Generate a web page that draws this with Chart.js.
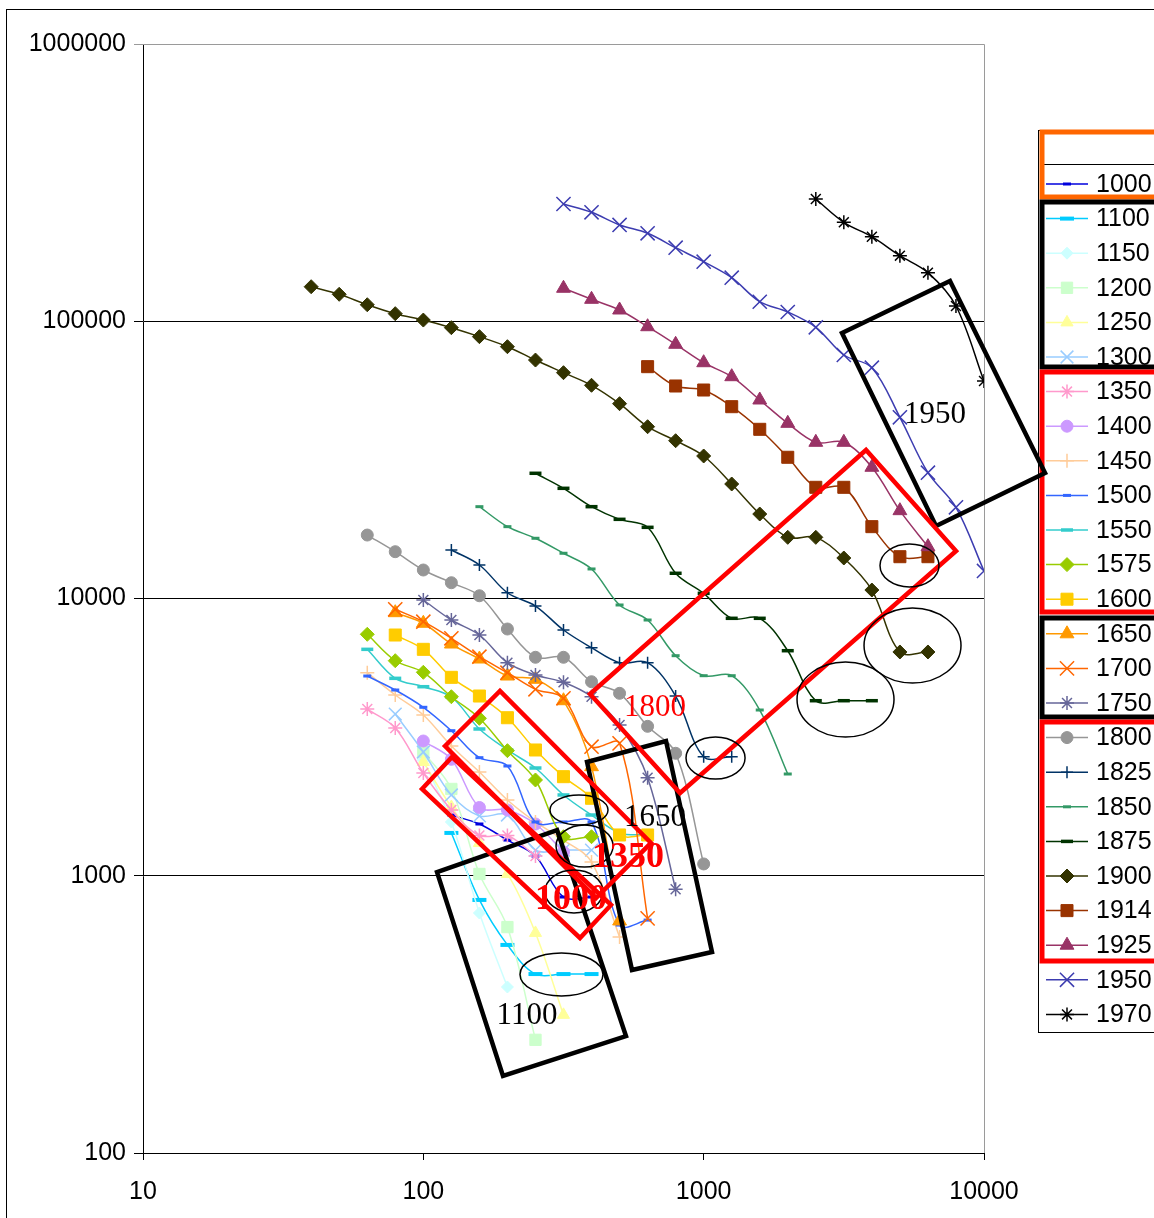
<!DOCTYPE html>
<html>
<head>
<meta charset="utf-8">
<script src="https://cdn.jsdelivr.net/npm/chart.js@4.4.1/dist/chart.umd.min.js"></script>
<style>
body{margin:0;background:#fff;}
#wrap{width:1154px;height:1218px;}
</style>
</head>
<body>
<div id="wrap"><canvas id="chart" width="1154" height="1218"></canvas></div>
<script>
// rank positions shared by all years (x axis)
const ranks = [39.8, 50.1, 63.1, 79.4, 100, 125.9, 158.5, 199.5, 251.2, 316.2, 398.1, 501.2, 631,
			   794.3, 1000, 1259, 1585, 1995, 2512, 3162, 3981, 5012, 6310, 7943, 10000];

const years = ["1000","1100","1150","1200","1250","1300","1350","1400","1450","1500","1550","1575","1600",
			   "1650","1700","1750","1800","1825","1850","1875","1900","1914","1925","1950","1970"];

// index in ranks of the first value of each year
const firstRank = [5,5,4,4,4,3,2,4,2,2,2,2,3,3,3,4,2,5,6,8,0,12,9,9,18];

const pop1000 = [1656,1537,1345,1178,838,838];
const pop1100 = [1427,818,563,442,442,442];
const pop1150 = [2615,1563,734,397];
const pop1200 = [2795,2056,1015,653,256];
const pop1250 = [2573,1770,1313,1015,622,315];
const pop1300 = [3831,2795,1956,1643,1656,1238,1238,1238];
const pop1350 = [3994,3412,2348,1727,1397,1397,1178];
const pop1400 = [3062,2630,1763,1727,1537,1218];
const pop1450 = [5401,4487,3800,2938,2367,1876,1563,1345,1121,601];
const pop1500 = [5253,4677,4051,3336,2666,2488,1563,1563,1563,664,692];
const pop1550 = [6556,5153,4807,4412,3383,2842,2447,1956,1656,1427,1403];
const pop1575 = [7428,5966,5418,4423,3697,2826,2215,1383,1383];
const pop1600 = [7384,6556,5196,4449,3715,2842,2277,1903,1403,1403];
const pop1650 = [8889,8140,6852,6050,5253,5113,4279,2474,687];
const pop1700 = [9142,8249,7184,6167,5399,4704,4365,2921,3003,702];
const pop1750 = [9876,8364,7384,5867,5298,4986,4423,3497,2258,894];
const pop1800 = [16940,14750,12670,11400,10230,7762,6137,6137,5010,4550,3459,2765,1103];
const pop1825 = [14960,13210,10490,9396,7697,6645,5867,5867,4449,2688,2688];
const pop1850 = [21440,18160,16490,14560,12780,9476,8364,6219,5267,5267,3961,2328];
const pop1875 = [28290,24970,21440,19300,18060,12330,10440,8483,8483,6482,4279,4279,4279];
const pop1900 = [133200,125100,114700,106500,101000,94800,88000,80950,72460,65240,58750,50430,41650,
				 37080,32660,25880,20170,16620,16620,14000,10730,6414,6414];
const pop1914 = [68580,58410,56490,49190,40760,32310,25180,25180,18160,14150,14150];
const pop1925 = [131500,120000,109800,95570,82580,70870,63100,52000,42840,36590,36590,29740,20740,15380];
const pop1950 = [264800,247200,222500,207600,184200,164000,143600,117600,108000,95100,75550,68000,
				 45040,28430,21330,12570];
const pop1970 = [276000,227500,201800,172400,149700,113500,60880];

const popByYear = [pop1000,pop1100,pop1150,pop1200,pop1250,pop1300,pop1350,pop1400,pop1450,pop1500,
				   pop1550,pop1575,pop1600,pop1650,pop1700,pop1750,pop1800,pop1825,pop1850,pop1875,
				   pop1900,pop1914,pop1925,pop1950,pop1970];

const xTicks = [10, 100, 1000, 10000];
const yTicks = [100, 1000, 10000, 100000, 1000000];

// styles, one per year
const colours = ["#0000dd","#00ccff","#ccffff","#ccffcc","#ffff99","#99ccff","#ff99cc","#cc99ff","#ffcc99",
				 "#3366ff","#33cccc","#99cc00","#ffcc00","#ff9900","#ff6600","#666699","#969696","#003366",
				 "#339966","#003300","#333300","#993300","#993366","#3c3cb0","#000000"];
const markers = ["line","line","rectRot","rect","triangle","crossRot","star","circle","cross","line","line",
				 "rectRot","rect","triangle","crossRot","star","circle","cross","line","line","rectRot",
				 "rect","triangle","crossRot","star"];
const markerSize = [4,7,6,8,7,9,7,6,7,4,6,7,8.5,8,10,7,6,6,4,6,7,8.5,8,10,7];
const markerLine = [3,4,1,1,1,1.5,1.5,1,1.5,3,3.5,1,1,1,1.5,1.5,1,1.5,3,3.5,1,1,1,1.5,1.5];

// hand drawn notes on the figure, in data units
const noteBoxes = [
	{colour:"#000000", corners:[[3115,90700],[7563,139700],[16510,28360],[6742,18260]]},
	{colour:"#000000", corners:[[383.6,2573],[734,3062],[1071,530.9],[555,457.1]]},
	{colour:"#000000", corners:[[111.9,1031],[299.9,1462],[528.4,264.2],[192.4,189.6]]},
	{colour:"#ff0000", corners:[[393.3,4523],[3795,34330],[7947,14840],[823.5,1988]]},
	{colour:"#ff0000", corners:[[119.5,2938],[187.7,4638],[649,1313],[413,831]]},
	{colour:"#ff0000", corners:[[98.9,2056],[126.6,2681],[467.1,784.5],[362.1,596.4]]}
];
// left x, right x, top y, bottom y
const noteRings = [
	[283,455.8,1956,1524],
	[297.4,474.9,1524,1075],
	[271.6,437.4,1049,734],
	[221.2,437.4,526.5,368.4],
	[865,1405,3166,2234],
	[2153,4775,5902,3166],
	[3733,8279,9241,4958],
	[4256,6910,15730,11000]
];
const noteTexts = [
	{text:"1950", x:6688, y:45910, colour:"#000000", bold:false},
	{text:"1800", x:670.8, y:4028, colour:"#ff0000", bold:false},
	{text:"1650", x:670.8, y:1615, colour:"#000000", bold:false},
	{text:"1350", x:537.1, y:1159, colour:"#ff0000", bold:true},
	{text:"1000", x:336.3, y:817.5, colour:"#ff0000", bold:true},
	{text:"1100", x:234.3, y:312, colour:"#000000", bold:false}
];

// legend group frames (orange, black, red, black, red)
const legendGroups = [
	{colour:"#ff6600", top:132, bottom:197},
	{colour:"#000000", top:202, bottom:367},
	{colour:"#ff0000", top:372, bottom:612},
	{colour:"#000000", top:618, bottom:717},
	{colour:"#ff0000", top:722, bottom:961}
];

let datasets = [];
for (let i = 0; i < years.length; i++) {
	let pts = [];
	for (let j = 0; j < popByYear[i].length; j++) {
		pts.push({x: ranks[firstRank[i] + j], y: popByYear[i][j]});
	}
	datasets.push({
		label: years[i],
		data: pts,
		borderColor: colours[i],
		backgroundColor: colours[i],
		borderWidth: 1.5,
		tension: 0.35,
		pointStyle: markers[i],
		pointRadius: markerSize[i],
		pointBorderWidth: markerLine[i],
		pointBorderColor: colours[i],
		pointBackgroundColor: colours[i],
		order: years.length - i
	});
}

function drawLegend(chart){
	const ctx = chart.ctx;
	ctx.save();
	ctx.strokeStyle = "#000";
	ctx.lineWidth = 1;
	ctx.strokeRect(1038.5, 130.5, 140, 902);
	ctx.beginPath();
	ctx.moveTo(1040, 164.5);
	ctx.lineTo(1154, 164.5);
	ctx.stroke();
	ctx.font = "25px 'Liberation Sans'";
	ctx.textAlign = "left";
	ctx.textBaseline = "middle";
	for (let i = 0; i < years.length; i++) {
		let y = 184 + i * 34.6;
		ctx.strokeStyle = colours[i];
		ctx.fillStyle = colours[i];
		ctx.lineWidth = 1.5;
		ctx.beginPath();
		ctx.moveTo(1046, y);
		ctx.lineTo(1088, y);
		ctx.stroke();
		ctx.lineWidth = markerLine[i];
		Chart.helpers.drawPoint(ctx, {pointStyle: markers[i], radius: markerSize[i], rotation: 0, borderWidth: markerLine[i]}, 1067, y);
		ctx.fillStyle = "#000";
		ctx.fillText(years[i], 1096, y + 1);
	}
	ctx.lineWidth = 5;
	for (const g of legendGroups) {
		ctx.strokeStyle = g.colour;
		ctx.strokeRect(1042, g.top, 130, g.bottom - g.top);
	}
	ctx.restore();
}

function drawNotes(chart){
	const ctx = chart.ctx;
	const xs = chart.scales.x, ys = chart.scales.y;
	ctx.save();
	ctx.lineWidth = 4.5;
	ctx.lineJoin = "miter";
	for (const b of noteBoxes) {
		ctx.strokeStyle = b.colour;
		ctx.beginPath();
		b.corners.forEach((c, k) => {
			let px = xs.getPixelForValue(c[0]), py = ys.getPixelForValue(c[1]);
			if (k == 0) ctx.moveTo(px, py); else ctx.lineTo(px, py);
		});
		ctx.closePath();
		ctx.stroke();
	}
	ctx.lineWidth = 1.5;
	ctx.strokeStyle = "#000";
	for (const r of noteRings) {
		let x1 = xs.getPixelForValue(r[0]), x2 = xs.getPixelForValue(r[1]);
		let y1 = ys.getPixelForValue(r[2]), y2 = ys.getPixelForValue(r[3]);
		ctx.beginPath();
		ctx.ellipse((x1 + x2) / 2, (y1 + y2) / 2, (x2 - x1) / 2, (y2 - y1) / 2, 0, 0, Math.PI * 2);
		ctx.stroke();
	}
	ctx.textAlign = "center";
	ctx.textBaseline = "middle";
	for (const t of noteTexts) {
		ctx.fillStyle = t.colour;
		ctx.font = t.bold ? "bold 36px 'Liberation Serif'" : "31px 'Liberation Serif'";
		ctx.fillText(t.text, xs.getPixelForValue(t.x), ys.getPixelForValue(t.y));
	}
	ctx.restore();
}

const decor = {
	id: "decor",
	beforeDatasetsDraw(chart){
		const ctx = chart.ctx, a = chart.chartArea;
		ctx.save();
		ctx.strokeStyle = "#9a9a9a";
		ctx.lineWidth = 1;
		ctx.beginPath();
		ctx.moveTo(a.left, a.top + 0.5);
		ctx.lineTo(a.right + 0.5, a.top + 0.5);
		ctx.lineTo(a.right + 0.5, a.bottom);
		ctx.stroke();
		ctx.restore();
	},
	afterDraw(chart){
		const ctx = chart.ctx;
		drawLegend(chart);
		drawNotes(chart);
		ctx.save();
		ctx.strokeStyle = "#000";
		ctx.lineWidth = 1;
		ctx.strokeRect(6.5, 9.5, 1300, 1300);
		ctx.restore();
	}
};

const tickFont = {family: "'Liberation Sans', Arial, sans-serif", size: 25};

new Chart(document.getElementById("chart"), {
	type: "line",
	data: {datasets: datasets},
	plugins: [decor],
	options: {
		responsive: false,
		animation: false,
		events: [],
		layout: {padding: {top: 44, right: 170, left: 0, bottom: 0}},
		plugins: {legend: {display: false}, tooltip: {enabled: false}},
		scales: {
			x: {
				type: "logarithmic", min: 10, max: 10000,
				afterBuildTicks: s => { s.ticks = xTicks.map(v => ({value: v})); },
				afterFit: s => { s.height = 65; },
				ticks: {font: tickFont, color: "#000", padding: 17, maxRotation: 0, autoSkip: false,
						callback: v => String(v)},
				grid: {drawOnChartArea: false, tickLength: 7, color: "#000"},
				border: {color: "#000"}
			},
			y: {
				type: "logarithmic", min: 100, max: 1000000,
				afterBuildTicks: s => { s.ticks = yTicks.map(v => ({value: v})); },
				afterFit: s => { s.width = 143; },
				ticks: {font: tickFont, color: "#000", padding: 8, autoSkip: false,
						callback: v => String(v)},
				grid: {tickLength: 9, color: c => (c.tick && c.tick.value == 1000000) ? "#9a9a9a" : "#000"},
				border: {color: "#000"}
			}
		}
	}
});
</script>
</body>
</html>
